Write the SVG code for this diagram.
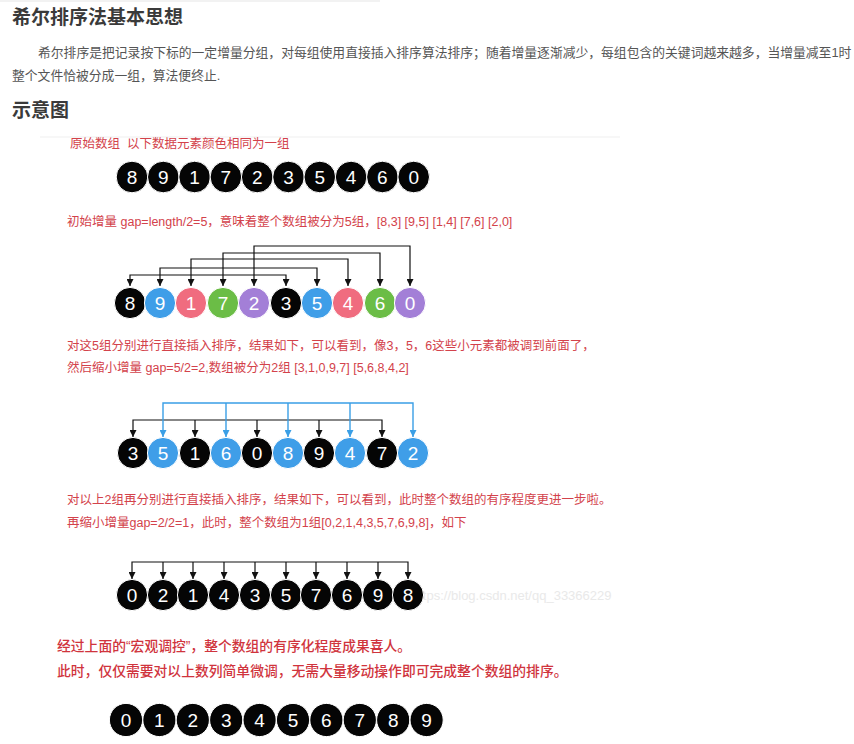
<svg xmlns="http://www.w3.org/2000/svg" width="854" height="744" viewBox="0 0 854 744">
<defs>
<style>
.h{font-family:"Liberation Sans","Noto Sans CJK SC",sans-serif;font-weight:bold;font-size:19px;fill:#3a3a3a}
.p{font-family:"Liberation Sans","Noto Sans CJK SC",sans-serif;font-size:12.8px;fill:#555}
.r{font-family:"Liberation Sans","Noto Sans CJK SC",sans-serif;font-size:12.5px;fill:#d3424b}
.rb{font-family:"Liberation Sans","Noto Sans CJK SC",sans-serif;font-size:13.8px;font-weight:500;fill:#d0343d}
.n{font-family:"Liberation Sans",Arial,sans-serif;font-size:19px;fill:#fff;text-anchor:middle;dominant-baseline:central}
.k{fill:#050505;stroke:#fff;stroke-width:1}
.b{fill:#3f9ee8;stroke:#fff;stroke-width:1}
.pk{fill:#f06c7f;stroke:#fff;stroke-width:1}
.g{fill:#6bbd46;stroke:#fff;stroke-width:1}
.pu{fill:#a37fd7;stroke:#fff;stroke-width:1}
.c{fill:none;stroke:#111;stroke-width:1.2}
.cb{fill:none;stroke:#3a9fe6;stroke-width:1.4}
.wm{font-family:"Liberation Sans",Arial,sans-serif;font-size:13px;fill:#e9e9e9}
</style>
<marker id="ak" viewBox="0 0 10 10" refX="10" refY="5" markerWidth="7" markerHeight="7" markerUnits="userSpaceOnUse" orient="auto-start-reverse"><path d="M0 0L10 5L0 10z" fill="#111"/></marker>
<marker id="ab" viewBox="0 0 10 10" refX="10" refY="5" markerWidth="7" markerHeight="7" markerUnits="userSpaceOnUse" orient="auto-start-reverse"><path d="M0 0L10 5L0 10z" fill="#3a9fe6"/></marker>
</defs>
<rect width="854" height="744" fill="#fff"/>
<rect x="0" y="0" width="380" height="2" fill="#f2f2f2"/>
<line x1="40" y1="137" x2="620" y2="137" stroke="#efefef" stroke-width="1"/>

<g id="texts">
<text class="h" x="12" y="24">希尔排序法基本思想</text>
<text class="p" x="38" y="57">希尔排序是把记录按下标的一定增量分组，对每组使用直接插入排序算法排序；随着增量逐渐减少，每组包含的关键词越来越多，当增量减至1时</text>
<text class="p" x="12" y="80">整个文件恰被分成一组，算法便终止.</text>
<text class="h" x="12" y="117">示意图</text>
<text class="r" x="70" y="148" xml:space="preserve">原始数组  以下数据元素颜色相同为一组</text>
<text class="r" x="67" y="226">初始增量 gap=length/2=5，意味着整个数组被分为5组，[8,3] [9,5] [1,4] [7,6] [2,0]</text>
<text class="r" x="67" y="350">对这5组分别进行直接插入排序，结果如下，可以看到，像3，5，6这些小元素都被调到前面了，</text>
<text class="r" x="67" y="372">然后缩小增量 gap=5/2=2,数组被分为2组 [3,1,0,9,7] [5,6,8,4,2]</text>
<text class="r" x="67" y="504">对以上2组再分别进行直接插入排序，结果如下，可以看到，此时整个数组的有序程度更进一步啦。</text>
<text class="r" x="67" y="527">再缩小增量gap=2/2=1，此时，整个数组为1组[0,2,1,4,3,5,7,6,9,8]，如下</text>
<text class="rb" x="57" y="651">经过上面的“宏观调控”，整个数组的有序化程度成果喜人。</text>
<text class="rb" x="57" y="676">此时，仅仅需要对以上数列简单微调，无需大量移动操作即可完成整个数组的排序。</text>
<text class="wm" x="412" y="600">https://blog.csdn.net/qq_33366229</text>
</g>

<g id="connectors">
<path class="c" d="M130 286V275H286V286" marker-start="url(#ak)" marker-end="url(#ak)"/>
<path class="c" d="M160 286V268H317V286" marker-start="url(#ak)" marker-end="url(#ak)"/>
<path class="c" d="M191 286V259H348V286" marker-start="url(#ak)" marker-end="url(#ak)"/>
<path class="c" d="M223 286V253H380V286" marker-start="url(#ak)" marker-end="url(#ak)"/>
<path class="c" d="M254 286V246H410V286" marker-start="url(#ak)" marker-end="url(#ak)"/>

<path class="c" d="M133 437V420H382V437" marker-start="url(#ak)" marker-end="url(#ak)"/>
<path class="c" d="M195 420V437" marker-end="url(#ak)"/>
<path class="c" d="M257 420V437" marker-end="url(#ak)"/>
<path class="c" d="M319 420V437" marker-end="url(#ak)"/>
<path class="cb" d="M163 437V403H413V437" marker-start="url(#ab)" marker-end="url(#ab)"/>
<path class="cb" d="M226 403V437" marker-end="url(#ab)"/>
<path class="cb" d="M288 403V437" marker-end="url(#ab)"/>
<path class="cb" d="M350 403V437" marker-end="url(#ab)"/>

<path class="c" d="M132 579V562H408V579" marker-start="url(#ak)" marker-end="url(#ak)"/>
<path class="c" d="M163 562V579" marker-end="url(#ak)"/>
<path class="c" d="M193 562V579" marker-end="url(#ak)"/>
<path class="c" d="M224 562V579" marker-end="url(#ak)"/>
<path class="c" d="M255 562V579" marker-end="url(#ak)"/>
<path class="c" d="M286 562V579" marker-end="url(#ak)"/>
<path class="c" d="M316 562V579" marker-end="url(#ak)"/>
<path class="c" d="M347 562V579" marker-end="url(#ak)"/>
<path class="c" d="M378 562V579" marker-end="url(#ak)"/>
</g>

<g id="row1">
<g id="r1n0"><circle class="k" cx="132" cy="177" r="15.8"/><text class="n" x="132" y="177">8</text></g>
<g id="r1n1"><circle class="k" cx="163.3" cy="177" r="15.8"/><text class="n" x="163.3" y="177">9</text></g>
<g id="r1n2"><circle class="k" cx="194.6" cy="177" r="15.8"/><text class="n" x="194.6" y="177">1</text></g>
<g id="r1n3"><circle class="k" cx="225.9" cy="177" r="15.8"/><text class="n" x="225.9" y="177">7</text></g>
<g id="r1n4"><circle class="k" cx="257.2" cy="177" r="15.8"/><text class="n" x="257.2" y="177">2</text></g>
<g id="r1n5"><circle class="k" cx="288.5" cy="177" r="15.8"/><text class="n" x="288.5" y="177">3</text></g>
<g id="r1n6"><circle class="k" cx="319.8" cy="177" r="15.8"/><text class="n" x="319.8" y="177">5</text></g>
<g id="r1n7"><circle class="k" cx="351.1" cy="177" r="15.8"/><text class="n" x="351.1" y="177">4</text></g>
<g id="r1n8"><circle class="k" cx="382.4" cy="177" r="15.8"/><text class="n" x="382.4" y="177">6</text></g>
<g id="r1n9"><circle class="k" cx="413.7" cy="177" r="15.8"/><text class="n" x="413.7" y="177">0</text></g>
</g>

<g id="row2">
<g id="r2n0"><circle class="k" cx="130" cy="303" r="15.6"/><text class="n" x="130" y="303">8</text></g>
<g id="r2n1"><circle class="b" cx="160" cy="303" r="15.6"/><text class="n" x="160" y="303">9</text></g>
<g id="r2n2"><circle class="pk" cx="191" cy="303" r="15.6"/><text class="n" x="191" y="303">1</text></g>
<g id="r2n3"><circle class="g" cx="223" cy="303" r="15.6"/><text class="n" x="223" y="303">7</text></g>
<g id="r2n4"><circle class="pu" cx="254" cy="303" r="15.6"/><text class="n" x="254" y="303">2</text></g>
<g id="r2n5"><circle class="k" cx="286" cy="303" r="15.6"/><text class="n" x="286" y="303">3</text></g>
<g id="r2n6"><circle class="b" cx="317" cy="303" r="15.6"/><text class="n" x="317" y="303">5</text></g>
<g id="r2n7"><circle class="pk" cx="348" cy="303" r="15.6"/><text class="n" x="348" y="303">4</text></g>
<g id="r2n8"><circle class="g" cx="380" cy="303" r="15.6"/><text class="n" x="380" y="303">6</text></g>
<g id="r2n9"><circle class="pu" cx="410" cy="303" r="15.6"/><text class="n" x="410" y="303">0</text></g>
</g>

<g id="row3">
<g id="r3n0"><circle class="k" cx="133" cy="453" r="15.6"/><text class="n" x="133" y="453">3</text></g>
<g id="r3n1"><circle class="b" cx="163" cy="453" r="15.6"/><text class="n" x="163" y="453">5</text></g>
<g id="r3n2"><circle class="k" cx="195" cy="453" r="15.6"/><text class="n" x="195" y="453">1</text></g>
<g id="r3n3"><circle class="b" cx="226" cy="453" r="15.6"/><text class="n" x="226" y="453">6</text></g>
<g id="r3n4"><circle class="k" cx="257" cy="453" r="15.6"/><text class="n" x="257" y="453">0</text></g>
<g id="r3n5"><circle class="b" cx="288" cy="453" r="15.6"/><text class="n" x="288" y="453">8</text></g>
<g id="r3n6"><circle class="k" cx="319" cy="453" r="15.6"/><text class="n" x="319" y="453">9</text></g>
<g id="r3n7"><circle class="b" cx="350" cy="453" r="15.6"/><text class="n" x="350" y="453">4</text></g>
<g id="r3n8"><circle class="k" cx="382" cy="453" r="15.6"/><text class="n" x="382" y="453">7</text></g>
<g id="r3n9"><circle class="b" cx="413" cy="453" r="15.6"/><text class="n" x="413" y="453">2</text></g>
</g>

<g id="row4">
<g id="r4n0"><circle class="k" cx="132" cy="595" r="15.6"/><text class="n" x="132" y="595">0</text></g>
<g id="r4n1"><circle class="k" cx="163" cy="595" r="15.6"/><text class="n" x="163" y="595">2</text></g>
<g id="r4n2"><circle class="k" cx="193" cy="595" r="15.6"/><text class="n" x="193" y="595">1</text></g>
<g id="r4n3"><circle class="k" cx="224" cy="595" r="15.6"/><text class="n" x="224" y="595">4</text></g>
<g id="r4n4"><circle class="k" cx="255" cy="595" r="15.6"/><text class="n" x="255" y="595">3</text></g>
<g id="r4n5"><circle class="k" cx="286" cy="595" r="15.6"/><text class="n" x="286" y="595">5</text></g>
<g id="r4n6"><circle class="k" cx="316" cy="595" r="15.6"/><text class="n" x="316" y="595">7</text></g>
<g id="r4n7"><circle class="k" cx="347" cy="595" r="15.6"/><text class="n" x="347" y="595">6</text></g>
<g id="r4n8"><circle class="k" cx="378" cy="595" r="15.6"/><text class="n" x="378" y="595">9</text></g>
<g id="r4n9"><circle class="k" cx="408" cy="595" r="15.6"/><text class="n" x="408" y="595">8</text></g>
</g>

<g id="row5">
<g id="r5n0"><circle class="k" cx="126" cy="720" r="16.6"/><text class="n" x="126" y="720">0</text></g>
<g id="r5n1"><circle class="k" cx="159.4" cy="720" r="16.6"/><text class="n" x="159.4" y="720">1</text></g>
<g id="r5n2"><circle class="k" cx="192.8" cy="720" r="16.6"/><text class="n" x="192.8" y="720">2</text></g>
<g id="r5n3"><circle class="k" cx="226.2" cy="720" r="16.6"/><text class="n" x="226.2" y="720">3</text></g>
<g id="r5n4"><circle class="k" cx="259.6" cy="720" r="16.6"/><text class="n" x="259.6" y="720">4</text></g>
<g id="r5n5"><circle class="k" cx="293" cy="720" r="16.6"/><text class="n" x="293" y="720">5</text></g>
<g id="r5n6"><circle class="k" cx="326.4" cy="720" r="16.6"/><text class="n" x="326.4" y="720">6</text></g>
<g id="r5n7"><circle class="k" cx="359.8" cy="720" r="16.6"/><text class="n" x="359.8" y="720">7</text></g>
<g id="r5n8"><circle class="k" cx="393.2" cy="720" r="16.6"/><text class="n" x="393.2" y="720">8</text></g>
<g id="r5n9"><circle class="k" cx="426.6" cy="720" r="16.6"/><text class="n" x="426.6" y="720">9</text></g>
</g>
</svg>
